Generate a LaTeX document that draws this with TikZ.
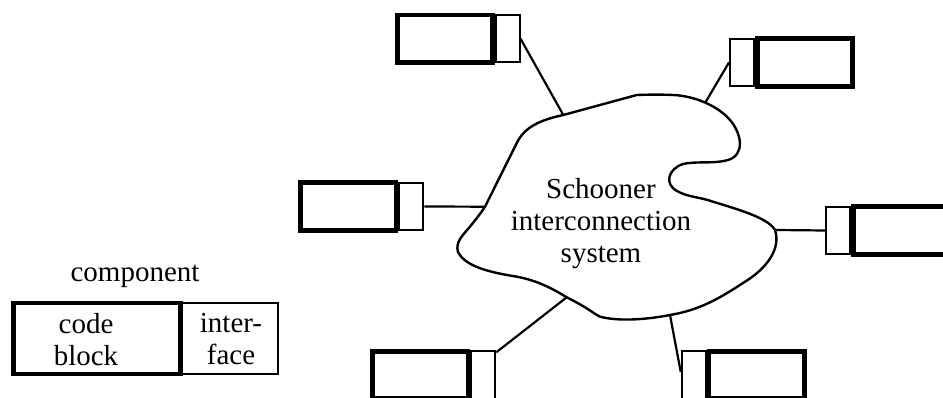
\documentclass[tikz,border=0pt]{standalone}
\usepackage{fontspec}
\setmainfont{Liberation Serif}
\begin{document}
\begin{tikzpicture}[x=1pt,y=-1pt,
  codeb/.style={draw, line width=4.6pt, minimum width=95.5pt, minimum height=47.5pt, inner sep=0pt},
  iface/.style={draw, line width=2pt, minimum width=24pt, minimum height=47.5pt, inner sep=0pt},
  link/.style={line width=2.2pt},
  cloudline/.style={line width=2.4pt, line join=round},
  lbl/.style={font=\fontsize{29}{32}\selectfont, inner sep=0pt, align=center}
]
\useasboundingbox (0,0) rectangle (943,398);

% cloud
\draw[cloudline] (563.3,115) -- (636.7,95)
 .. controls (650,94.5) and (662,94.5) .. (673.3,95)
 .. controls (695,96) and (718,106) .. (730,120)
 .. controls (742,134) and (745,155) .. (728,160)
 .. controls (715,164) and (695,161) .. (683,164)
 .. controls (668,169) and (664,184) .. (677,191)
 .. controls (687,197) and (700,197) .. (713,201.7)
 .. controls (740,210) and (768,218) .. (775,230)
 .. controls (781,248) and (768,268) .. (743,283)
 .. controls (720,298) and (700,310) .. (670,315)
 .. controls (650,319) and (620,322) .. (600,316.7)
 .. controls (594,314) and (590,309) .. (566.7,297.3)
 .. controls (550,287) and (535,280) .. (516.7,276.7)
 .. controls (495,273) and (466,268) .. (458,252)
 .. controls (455,242) and (463,235) .. (470,226.7)
 .. controls (476,219) and (481,213) .. (485,206.7)
 -- (518.3,140)
 .. controls (526,127) and (540,120) .. (563.3,115) -- cycle;
\coordinate (kL) at (485,206.7);
\coordinate (kTL) at (563.3,115);
\coordinate (kTR) at (705.3,102.6);
\coordinate (kR) at (775,230);
\coordinate (kBR) at (670,315);
\coordinate (kBL) at (566.7,297.3);
\node[lbl] (sys) at (601,224) {Schooner\\interconnection\\system};

% legend component
\node[lbl, anchor=base] (comp) at (135,281.5) {component};
\node[iface, minimum width=96pt, minimum height=71pt, anchor=west] (li) at (180.5,338.5) {};
\node[codeb, minimum width=167pt, minimum height=71pt] (lc) at (97,338.5) {};
\node[lbl] (lct) at (86,339.5) {code\\block};
\node[lbl] (lit) at (231,339.5) {inter-\\face};

% top-left
\node[codeb] (c2) at (445,38.75) {};
\node[iface, minimum width=23.5pt, anchor=west] (i2) at (c2.east) {};
\node[codeb] at (c2) {};
% top-right
\node[codeb] (c3) at (805,62.5) {};
\node[iface, anchor=east] (i3) at (c3.west) {};
\node[codeb] at (c3) {};
% left-mid
\node[codeb] (c4) at (348.3,206.5) {};
\node[iface, anchor=west] (i4) at (c4.east) {};
\node[codeb] at (c4) {};
% bottom-left
\node[codeb] (c5) at (420.3,375) {};
\node[iface, anchor=west] (i5) at (c5.east) {};
\node[codeb] at (c5) {};
% right-mid
\node[codeb] (c6) at (901.5,230.5) {};
\node[iface, anchor=east] (i6) at (c6.west) {};
\node[codeb] at (c6) {};
% bottom-right
\node[codeb] (c7) at (756.8,375) {};
\node[iface, anchor=east] (i7) at (c7.west) {};
\node[codeb] at (c7) {};

% connectors
\draw[link] (i2.east) -- (kTL);
\draw[link] (i3.west) -- (kTR);
\draw[link] (i4.east) -- (kL);
\draw[link] ([yshift=-2pt]i5.north east) -- (kBL);
\draw[link] ([yshift=3pt]i7.west) -- (kBR);
\draw[link] (i6.west) -- (kR);
\end{tikzpicture}
\end{document}
